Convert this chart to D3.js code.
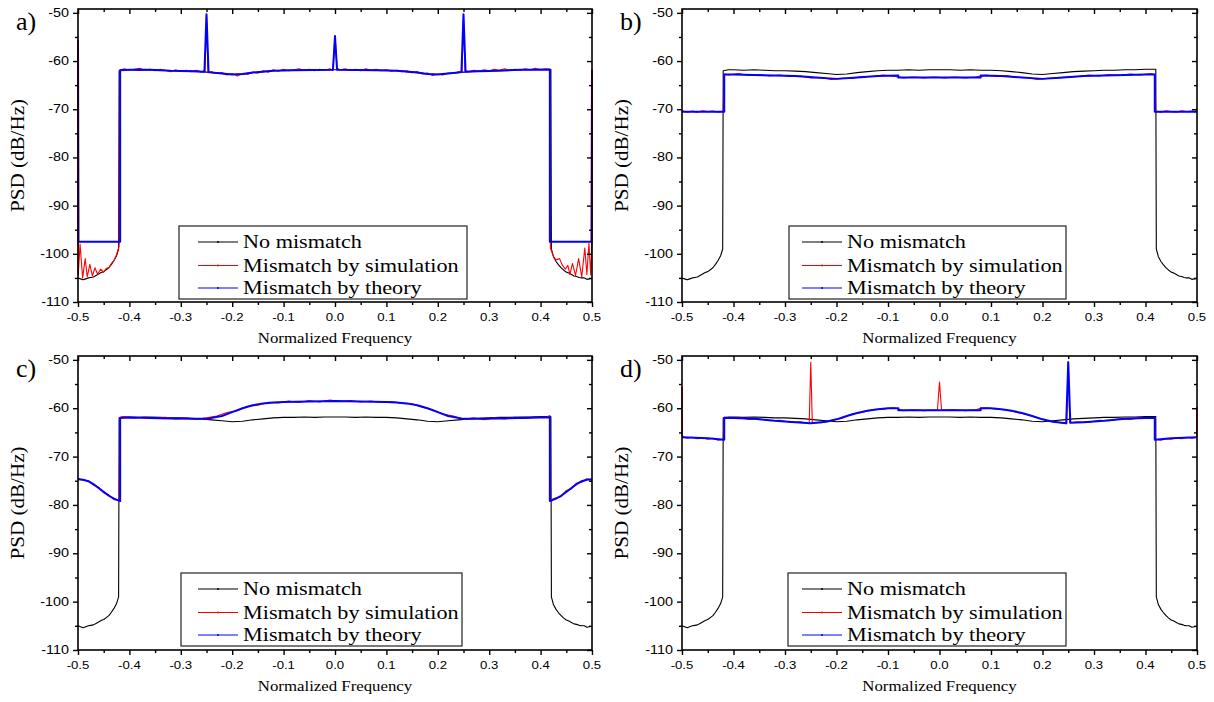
<!DOCTYPE html>
<html>
<head>
<meta charset="utf-8">
<script src="https://cdn.jsdelivr.net/npm/d3@7"></script>
<style>
  body { margin: 0; background: #fff; }
  svg { display: block; }
</style>
</head>
<body>
<svg id="chart" width="1214" height="702"></svg>
<script>
// ---- data ----
const xMajor = [-0.5, -0.4, -0.3, -0.2, -0.1, 0, 0.1, 0.2, 0.3, 0.4, 0.5];
const xMinor = [-0.45, -0.35, -0.25, -0.15, -0.05, 0.05, 0.15, 0.25, 0.35, 0.45];
const yMajor = [-110, -100, -90, -80, -70, -60, -50];
const yMinor = [-105, -95, -85, -75, -65, -55];
const legendLabels = ["No mismatch", "Mismatch by simulation", "Mismatch by theory"];

// [normalized frequency, PSD dB/Hz]
const noMismatch = [
  [-0.5,-105.0],[-0.495,-105.2],[-0.49,-105.4],[-0.485,-105.2],[-0.48,-105.0],[-0.475,-104.9],
  [-0.47,-104.8],[-0.465,-104.5],[-0.46,-104.2],[-0.455,-103.9],[-0.45,-103.7],[-0.445,-103.3],
  [-0.44,-102.9],[-0.435,-102.2],[-0.43,-101.4],[-0.425,-100.4],[-0.421,-99.0],[-0.42,-62.0],
  [-0.41,-61.8],[-0.40,-61.8],[-0.38,-61.9],[-0.36,-61.8],[-0.34,-61.9],[-0.32,-62.0],[-0.30,-62.0],
  [-0.28,-62.1],[-0.26,-62.2],[-0.24,-62.4],[-0.22,-62.6],[-0.20,-62.8],[-0.18,-62.7],[-0.16,-62.4],
  [-0.14,-62.2],[-0.12,-62.0],[-0.10,-61.9],[-0.08,-61.9],[-0.06,-61.8],[-0.04,-61.9],[-0.02,-61.8],
  [0,-61.8],[0.02,-61.8],[0.04,-61.9],[0.06,-61.8],[0.08,-61.9],[0.10,-61.9],[0.12,-62.0],
  [0.14,-62.2],[0.16,-62.4],[0.18,-62.7],[0.20,-62.8],[0.22,-62.6],[0.24,-62.4],[0.26,-62.2],
  [0.28,-62.1],[0.30,-62.0],[0.32,-61.9],[0.34,-61.9],[0.36,-61.8],[0.38,-61.8],[0.40,-61.7],
  [0.41,-61.7],[0.42,-61.7],[0.421,-99.0],[0.425,-100.6],[0.43,-101.6],[0.435,-102.3],[0.44,-102.9],
  [0.445,-103.4],[0.45,-103.8],[0.455,-104.0],[0.46,-104.3],[0.465,-104.6],[0.47,-104.7],
  [0.475,-104.9],[0.48,-105.0],[0.485,-105.0],[0.49,-105.3],[0.495,-105.2],[0.5,-105.1]
];

const theoryA = [
  [-0.5,-55.6],[-0.499,-97.5],[-0.418,-97.5],[-0.418,-61.9],[-0.40,-61.8],[-0.36,-61.8],[-0.32,-62.0],
  [-0.28,-62.1],[-0.254,-62.2],[-0.25,-50.3],[-0.246,-62.3],[-0.22,-62.6],[-0.20,-62.8],[-0.18,-62.7],
  [-0.16,-62.4],[-0.12,-62.0],[-0.08,-61.9],[-0.004,-61.8],[0,-54.8],[0.004,-61.8],[0.08,-61.9],
  [0.12,-62.0],[0.16,-62.4],[0.18,-62.7],[0.20,-62.8],[0.22,-62.6],[0.246,-62.3],[0.25,-50.3],
  [0.254,-62.2],[0.28,-62.1],[0.32,-62.0],[0.36,-61.8],[0.40,-61.8],[0.418,-61.8],[0.418,-97.5],
  [0.499,-97.5],[0.5,-61.8]
];
const simA = [
  [-0.5,-55.6],[-0.4995,-104.4],[-0.496,-98.0],[-0.491,-105.0],[-0.486,-101.0],[-0.482,-104.8],
  [-0.477,-102.2],[-0.472,-104.6],[-0.467,-102.9],[-0.462,-104.2],[-0.456,-103.2],[-0.45,-103.8],
  [-0.445,-103.0],[-0.44,-102.9],[-0.435,-102.0],[-0.43,-101.4],[-0.425,-100.2],[-0.42,-98.4],
  [-0.419,-61.9],[-0.41,-61.6],[-0.40,-61.9],[-0.39,-61.7],[-0.38,-61.5],[-0.37,-61.9],[-0.36,-61.7],
  [-0.35,-62.0],[-0.34,-61.7],[-0.33,-61.9],[-0.32,-62.2],[-0.31,-61.8],[-0.30,-62.1],[-0.29,-61.9],
  [-0.28,-62.2],[-0.27,-61.9],[-0.26,-62.3],[-0.253,-61.9],[-0.25,-50.6],[-0.247,-62.4],[-0.24,-62.2],
  [-0.23,-62.6],[-0.22,-62.4],[-0.21,-62.9],[-0.20,-62.6],[-0.19,-63.1],[-0.18,-62.6],[-0.17,-62.8],
  [-0.16,-62.3],[-0.15,-62.5],[-0.14,-62.0],[-0.13,-62.3],[-0.12,-61.8],[-0.11,-62.1],[-0.10,-61.7],
  [-0.09,-62.0],[-0.08,-61.8],[-0.07,-61.6],[-0.06,-61.9],[-0.05,-61.7],[-0.04,-62.0],[-0.03,-61.7],
  [-0.02,-61.9],[-0.01,-61.6],[-0.004,-61.9],[0,-55.0],[0.004,-61.5],[0.01,-61.8],[0.02,-61.6],
  [0.03,-61.9],[0.04,-61.7],[0.05,-62.0],[0.06,-61.6],[0.07,-61.9],[0.08,-61.7],[0.09,-62.0],
  [0.10,-61.8],[0.11,-62.1],[0.12,-61.9],[0.13,-62.2],[0.14,-62.0],[0.15,-62.4],[0.16,-62.2],
  [0.17,-62.7],[0.18,-62.5],[0.19,-63.0],[0.20,-62.7],[0.21,-62.9],[0.22,-62.5],[0.23,-62.6],
  [0.24,-62.2],[0.247,-62.3],[0.25,-50.6],[0.253,-62.0],[0.26,-62.2],[0.27,-61.9],[0.28,-62.1],
  [0.29,-61.8],[0.30,-62.0],[0.31,-61.7],[0.32,-61.9],[0.33,-61.6],[0.34,-61.9],[0.35,-61.7],
  [0.36,-61.9],[0.37,-61.6],[0.38,-61.8],[0.39,-61.5],[0.40,-61.8],[0.41,-61.6],[0.418,-61.7],
  [0.419,-98.8],[0.425,-100.5],[0.43,-101.3],[0.437,-101.0],[0.442,-102.3],[0.448,-103.2],
  [0.453,-102.4],[0.457,-104.3],[0.462,-102.0],[0.468,-104.5],[0.474,-101.0],[0.48,-104.8],
  [0.486,-98.8],[0.49,-104.3],[0.494,-97.8],[0.4975,-104.4],[0.4995,-98.5],[0.5,-61.8]
];

const theoryB = [
  [-0.5,-70.5],[-0.418,-70.5],[-0.418,-62.8],[-0.40,-62.8],[-0.36,-62.9],[-0.32,-63.0],[-0.28,-63.1],
  [-0.24,-63.4],[-0.20,-63.7],[-0.16,-63.4],[-0.12,-63.1],[-0.08,-63.0],[-0.08,-63.4],[0.08,-63.4],
  [0.08,-63.0],[0.12,-63.1],[0.16,-63.4],[0.20,-63.7],[0.24,-63.4],[0.28,-63.1],[0.32,-63.0],
  [0.36,-62.9],[0.40,-62.8],[0.418,-62.8],[0.418,-70.5],[0.5,-70.5]
];
const simB = [
  [-0.5,-70.3],[-0.49,-70.6],[-0.48,-70.4],[-0.47,-70.6],[-0.46,-70.3],[-0.45,-70.5],[-0.44,-70.4],
  [-0.43,-70.6],[-0.42,-70.4],[-0.418,-62.7],[-0.41,-62.9],[-0.39,-62.6],[-0.37,-63.0],[-0.35,-62.8],
  [-0.33,-63.1],[-0.31,-62.9],[-0.29,-63.2],[-0.27,-63.1],[-0.25,-63.5],[-0.23,-63.4],[-0.21,-63.8],
  [-0.19,-63.6],[-0.17,-63.6],[-0.15,-63.2],[-0.13,-63.2],[-0.11,-62.9],[-0.09,-63.1],[-0.08,-63.3],
  [-0.07,-63.5],[-0.05,-63.3],[-0.03,-63.5],[-0.01,-63.3],[0.01,-63.5],[0.03,-63.3],[0.05,-63.5],
  [0.07,-63.3],[0.08,-63.1],[0.09,-62.9],[0.11,-63.2],[0.13,-63.0],[0.15,-63.4],[0.17,-63.4],
  [0.19,-63.8],[0.21,-63.6],[0.23,-63.5],[0.25,-63.3],[0.27,-63.2],[0.29,-62.9],[0.31,-63.1],
  [0.33,-62.8],[0.35,-63.0],[0.37,-62.7],[0.39,-62.9],[0.41,-62.6],[0.418,-62.8],[0.42,-70.4],
  [0.43,-70.6],[0.44,-70.3],[0.45,-70.5],[0.46,-70.6],[0.47,-70.3],[0.48,-70.5],[0.49,-70.4],
  [0.497,-70.5],[0.5,-69.8]
];

const theoryC = [
  [-0.5,-74.7],[-0.49,-74.8],[-0.48,-75.1],[-0.47,-75.7],[-0.46,-76.5],[-0.45,-77.3],[-0.44,-78.1],
  [-0.43,-78.7],[-0.418,-79.2],[-0.418,-62.0],[-0.40,-61.9],[-0.36,-62.0],[-0.32,-62.1],[-0.28,-62.2],
  [-0.25,-62.2],[-0.22,-61.6],[-0.20,-60.8],[-0.18,-60.0],[-0.16,-59.4],[-0.14,-59.0],[-0.12,-58.8],
  [-0.10,-58.7],[-0.05,-58.6],[0,-58.5],[0.05,-58.6],[0.10,-58.7],[0.12,-58.8],[0.14,-59.0],
  [0.16,-59.4],[0.18,-60.0],[0.20,-60.8],[0.22,-61.6],[0.25,-62.2],[0.28,-62.2],[0.32,-62.1],
  [0.36,-62.0],[0.40,-61.9],[0.418,-61.9],[0.418,-79.2],[0.43,-78.7],[0.44,-78.1],[0.45,-77.3],
  [0.46,-76.5],[0.47,-75.7],[0.48,-75.1],[0.49,-74.8],[0.5,-74.7]
];
const simC = [
  [-0.5,-74.5],[-0.49,-74.9],[-0.48,-75.0],[-0.47,-75.9],[-0.46,-76.3],[-0.45,-77.5],[-0.44,-77.9],
  [-0.43,-78.9],[-0.42,-79.0],[-0.418,-61.8],[-0.41,-61.7],[-0.39,-62.0],[-0.37,-61.8],[-0.35,-62.1],
  [-0.33,-61.9],[-0.31,-62.2],[-0.29,-62.0],[-0.27,-62.3],[-0.25,-62.0],[-0.23,-61.6],[-0.21,-60.9],
  [-0.19,-60.5],[-0.17,-59.6],[-0.15,-59.4],[-0.13,-58.8],[-0.11,-58.9],[-0.09,-58.5],[-0.07,-58.8],
  [-0.05,-58.4],[-0.03,-58.7],[-0.01,-58.3],[0.01,-58.6],[0.03,-58.4],[0.05,-58.7],[0.07,-58.5],
  [0.09,-58.8],[0.11,-58.6],[0.13,-59.0],[0.15,-59.1],[0.17,-59.8],[0.19,-60.3],[0.21,-61.2],
  [0.23,-61.6],[0.25,-62.3],[0.27,-62.0],[0.29,-62.4],[0.31,-62.0],[0.33,-62.2],[0.35,-61.9],
  [0.37,-62.1],[0.39,-61.8],[0.41,-61.9],[0.418,-61.5],[0.419,-79.0],[0.43,-78.5],[0.44,-78.3],
  [0.45,-77.0],[0.46,-76.7],[0.47,-75.5],[0.48,-75.3],[0.49,-74.6],[0.5,-74.9]
];

const theoryD = [
  [-0.5,-66.0],[-0.45,-66.2],[-0.418,-66.5],[-0.418,-62.0],[-0.40,-62.0],[-0.36,-62.2],[-0.32,-62.6],
  [-0.28,-62.9],[-0.25,-63.1],[-0.22,-62.8],[-0.20,-62.3],[-0.18,-61.6],[-0.16,-61.0],[-0.14,-60.5],
  [-0.12,-60.2],[-0.10,-60.0],[-0.08,-60.0],[-0.08,-60.4],[0.08,-60.4],[0.08,-60.0],[0.10,-60.0],
  [0.12,-60.2],[0.14,-60.5],[0.16,-61.0],[0.18,-61.6],[0.20,-62.3],[0.22,-62.8],[0.246,-63.1],
  [0.25,-50.5],[0.254,-63.0],[0.28,-62.9],[0.32,-62.6],[0.36,-62.2],[0.40,-62.0],[0.418,-62.0],
  [0.418,-66.5],[0.45,-66.2],[0.5,-66.0]
];
const simD = [
  [-0.5,-55.6],[-0.4995,-65.8],[-0.49,-66.2],[-0.48,-66.0],[-0.47,-66.3],[-0.46,-66.1],[-0.45,-66.4],
  [-0.44,-66.2],[-0.43,-66.6],[-0.42,-66.4],[-0.418,-61.8],[-0.41,-62.0],[-0.39,-61.9],[-0.37,-62.3],
  [-0.35,-62.2],[-0.33,-62.6],[-0.31,-62.5],[-0.29,-62.9],[-0.27,-62.8],[-0.253,-63.2],[-0.25,-50.5],
  [-0.247,-63.0],[-0.23,-63.0],[-0.21,-62.5],[-0.19,-62.1],[-0.17,-61.2],[-0.15,-60.9],[-0.13,-60.3],
  [-0.11,-60.2],[-0.09,-59.9],[-0.08,-60.1],[-0.07,-60.5],[-0.05,-60.3],[-0.03,-60.5],[-0.004,-60.3],
  [0,-54.6],[0.004,-60.4],[0.03,-60.3],[0.05,-60.5],[0.07,-60.3],[0.08,-60.0],[0.09,-59.9],
  [0.11,-60.2],[0.13,-60.3],[0.15,-60.9],[0.17,-61.3],[0.19,-62.0],[0.21,-62.6],[0.23,-62.9],
  [0.247,-63.2],[0.25,-50.4],[0.253,-63.0],[0.27,-62.8],[0.29,-62.9],[0.31,-62.5],[0.33,-62.6],
  [0.35,-62.2],[0.37,-62.3],[0.39,-61.9],[0.41,-62.1],[0.418,-61.9],[0.419,-66.4],[0.43,-66.6],
  [0.44,-66.3],[0.45,-66.4],[0.46,-66.1],[0.47,-66.3],[0.48,-66.0],[0.49,-66.2],[0.4995,-66.0],
  [0.5,-59.8]
];

// ---- layout ----
const panels = [
  { id: "a", left: 78,  right: 592,  top: 9,   bottom: 302, legend: [101, 389], sim: simA, theory: theoryA },
  { id: "b", left: 682, right: 1197, top: 9,   bottom: 302, legend: [107, 384], sim: simB, theory: theoryB },
  { id: "c", left: 78,  right: 592,  top: 356, bottom: 650, legend: [103, 384], sim: simC, theory: theoryC },
  { id: "d", left: 682, right: 1197, top: 356, bottom: 650, legend: [106, 384], sim: simD, theory: theoryD }
];
const colors = ["#000000", "#ff0000", "#0000ff"];
const serif = "'Liberation Serif', 'Times New Roman', serif";
const sans = "'Liberation Sans', Arial, sans-serif";
const stretch = 1.2; // the figure is slightly wider than tall

const svg = d3.select("#chart");

function drawPanel(p) {
  const x = d3.scaleLinear().domain([-0.5, 0.5]).range([p.left, p.right]);
  const y = d3.scaleLinear().domain([-110, -49.2]).range([p.bottom, p.top]);
  const g = svg.append("g").attr("class", "panel-" + p.id);

  // clip the curves to the plot box (a little slack so edge lines stay visible)
  const clipId = "clip-" + p.id;
  svg.append("clipPath").attr("id", clipId)
    .append("rect")
    .attr("x", p.left - 2).attr("y", p.top)
    .attr("width", p.right - p.left + 4).attr("height", p.bottom - p.top);

  const line = d3.line().x(d => x(d[0])).y(d => y(d[1]));
  const curves = g.append("g").attr("clip-path", `url(#${clipId})`);
  const series = [
    { data: noMismatch, color: colors[0], width: 1.1 },
    { data: p.sim, color: colors[1], width: 1.1 },
    { data: p.theory, color: colors[2], width: 2 }
  ];
  series.forEach(s => {
    curves.append("path")
      .datum(s.data)
      .attr("d", line)
      .attr("fill", "none")
      .attr("stroke", s.color)
      .attr("stroke-width", s.width)
      .attr("stroke-linejoin", "round");
  });

  // frame
  g.append("rect")
    .attr("x", p.left).attr("y", p.top)
    .attr("width", p.right - p.left).attr("height", p.bottom - p.top)
    .attr("fill", "none").attr("stroke", "#000").attr("stroke-width", 1.6);

  // redraw the edge spikes on top of the frame
  curves.append("path")
    .datum(p.sim.filter(d => Math.abs(d[0]) >= 0.4995))
    .attr("d", d => line(d.filter(v => v[0] < 0)) + (d.some(v => v[0] > 0) ? line(d.filter(v => v[0] > 0)) : ""))
    .attr("fill", "none").attr("stroke", colors[1]).attr("stroke-width", 1.1);

  // ticks: bottom/left point out, top/right point in
  const tickAxes = [
    [d3.axisBottom(x).tickValues(xMajor).tickSize(5), `translate(0,${p.bottom})`],
    [d3.axisBottom(x).tickValues(xMinor).tickSize(3), `translate(0,${p.bottom})`],
    [d3.axisTop(x).tickValues(xMajor).tickSize(-5), `translate(0,${p.top})`],
    [d3.axisTop(x).tickValues(xMinor).tickSize(-3), `translate(0,${p.top})`],
    [d3.axisLeft(y).tickValues(yMajor).tickSize(5), `translate(${p.left},0)`],
    [d3.axisLeft(y).tickValues(yMinor).tickSize(3), `translate(${p.left},0)`],
    [d3.axisRight(y).tickValues(yMajor).tickSize(-5), `translate(${p.right},0)`],
    [d3.axisRight(y).tickValues(yMinor).tickSize(-3), `translate(${p.right},0)`]
  ];
  tickAxes.forEach(([axis, tr]) => {
    g.append("g")
      .attr("transform", tr)
      .call(axis.tickFormat("").tickSizeOuter(0))
      .call(a => a.select(".domain").remove())
      .call(a => a.selectAll(".tick line").attr("stroke", "#000").attr("stroke-width", 1.4));
  });

  // tick labels
  g.append("g").selectAll("text")
    .data(xMajor)
    .join("text")
    .attr("transform", d => `translate(${x(d)},${p.bottom + 19}) scale(${stretch},1)`)
    .attr("text-anchor", "middle")
    .style("font-family", sans).style("font-size", "11px")
    .text(d => d.toFixed(1));

  g.append("g").selectAll("text")
    .data(yMajor)
    .join("text")
    .attr("transform", d => `translate(${p.left - 9},${y(d) + 4}) scale(${stretch},1)`)
    .attr("text-anchor", "end")
    .style("font-family", sans).style("font-size", "12px")
    .text(d => String(d));

  // axis titles
  g.append("text")
    .attr("transform", `translate(${(p.left + p.right) / 2},${p.bottom + 41}) scale(${stretch},1)`)
    .attr("text-anchor", "middle")
    .style("font-family", serif).style("font-size", "14px")
    .text("Normalized Frequency");

  g.append("text")
    .attr("transform", `translate(${p.left - 54},${(p.top + p.bottom) / 2}) rotate(-90)`)
    .attr("text-anchor", "middle")
    .attr("textLength", 113).attr("lengthAdjust", "spacingAndGlyphs")
    .style("font-family", serif).style("font-size", "18px")
    .text("PSD (dB/Hz)");

  // panel letter
  g.append("text")
    .attr("x", p.left - 62).attr("y", p.top + 21)
    .style("font-family", serif).style("font-size", "26px")
    .text(p.id + ")");

  // legend
  const lx = p.left + p.legend[0];
  const ly = p.top + 217;
  const leg = g.append("g");
  leg.append("rect")
    .attr("x", lx).attr("y", ly)
    .attr("width", p.legend[1] - p.legend[0]).attr("height", 73)
    .attr("fill", "#fff").attr("stroke", "#333").attr("stroke-width", 1.3);
  const rowY = [233, 256.5, 279];
  legendLabels.forEach((label, i) => {
    const yy = p.top + rowY[i];
    leg.append("line")
      .attr("x1", p.left + 120).attr("x2", p.left + 160)
      .attr("y1", yy).attr("y2", yy)
      .attr("stroke", colors[i]).attr("stroke-width", 1.2);
    leg.append("circle")
      .attr("cx", p.left + 140).attr("cy", yy).attr("r", 1)
      .attr("fill", colors[i]);
    leg.append("text")
      .attr("transform", `translate(${p.left + 165},${yy + 6}) scale(${stretch},1)`)
      .style("font-family", serif).style("font-size", "18.5px")
      .text(label);
  });
}

panels.forEach(drawPanel);
</script>
</body>
</html>
